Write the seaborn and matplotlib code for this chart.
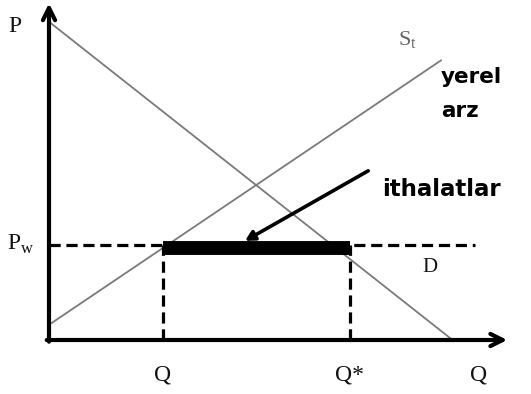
import matplotlib
matplotlib.use("Agg")
import matplotlib.pyplot as plt
import seaborn as sns

# Schematic values (quantity on x, price on y)
demand_q = [0.0, 8.85]
demand_p = [9.5, 0.0]
supply_q = [0.05, 8.6]
supply_p = [0.5, 8.35]
world_price = 2.84
q_domestic = 2.5
q_star = 6.6
pw_line_end = 9.35

sns.set_style("white")
plt.rcParams['font.family'] = ['DejaVu Sans']
plt.rcParams['text.color'] = 'black'

fig = plt.figure(figsize=(5.31, 3.94), dpi=100)
ax = fig.add_axes([49 / 531, 54 / 394, 456 / 531, 335 / 394])
ax.set_xlim(0, 10)
ax.set_ylim(0, 10)
ax.axis('off')

# demand and supply curves
sns.lineplot(x=demand_q, y=demand_p, ax=ax, color='#7a7a7a', lw=1.3)
sns.lineplot(x=supply_q, y=supply_p, ax=ax, color='#7a7a7a', lw=1.3)

# world price dashed line and quantity drop lines
dash = (0, (3.5, 1.8))
ax.plot([0, pw_line_end], [world_price, world_price], color='black', lw=2.3, linestyle=dash)
ax.plot([q_domestic, q_domestic], [0, world_price], color='black', lw=2.3, linestyle=dash)
ax.plot([q_star, q_star], [0, world_price], color='black', lw=2.3, linestyle=dash)

# imports bar
ax.plot([q_domestic, q_star], [world_price - 0.08, world_price - 0.08], color='black', lw=10,
        solid_capstyle='butt')

# axes with arrows
ax.annotate('', xy=(0, 10.05), xytext=(0, -0.05),
            arrowprops=dict(arrowstyle='->', lw=3, color='black', mutation_scale=22,
                            shrinkA=0, shrinkB=0), annotation_clip=False)
ax.annotate('', xy=(10.05, 0), xytext=(-0.05, 0),
            arrowprops=dict(arrowstyle='->', lw=3, color='black', mutation_scale=22,
                            shrinkA=0, shrinkB=0), annotation_clip=False)

# arrow pointing to imports
ax.annotate('', xy=(4.3, world_price + 0.12), xytext=(7.0, 5.05),
            arrowprops=dict(arrowstyle='-|>,head_width=0.3,head_length=0.55', lw=2.6,
                            color='black', shrinkA=0, shrinkB=0))

serif = dict(family='Liberation Serif', color='#111111')
ax.text(-0.75, 9.35, 'P', fontsize=17, ha='center', va='center', **serif)
ax.text(-0.62, 2.84, r'P$_{\mathregular{w}}$', fontsize=17, ha='center', va='center', **serif)
ax.text(q_domestic, -1.05, 'Q', fontsize=17, ha='center', va='center', **serif)
ax.text(q_star, -1.05, 'Q*', fontsize=17, ha='center', va='center', **serif)
ax.text(9.42, -1.05, 'Q', fontsize=17, ha='center', va='center', **serif)
ax.text(8.35, 2.15, 'D', fontsize=15, ha='center', va='center', **serif)
ax.text(7.85, 8.95, r'S$_{\mathregular{t}}$', fontsize=16, ha='center', va='center',
        family='Liberation Serif', color='#666666')

ax.text(8.6, 7.85, 'yerel', fontsize=15.5, fontweight='bold', ha='left', va='center')
ax.text(8.6, 6.85, 'arz', fontsize=15.5, fontweight='bold', ha='left', va='center')
ax.text(7.3, 4.5, 'ithalatlar', fontsize=16.5, fontweight='bold', ha='left', va='center')

fig.savefig('out.png', dpi=100)
